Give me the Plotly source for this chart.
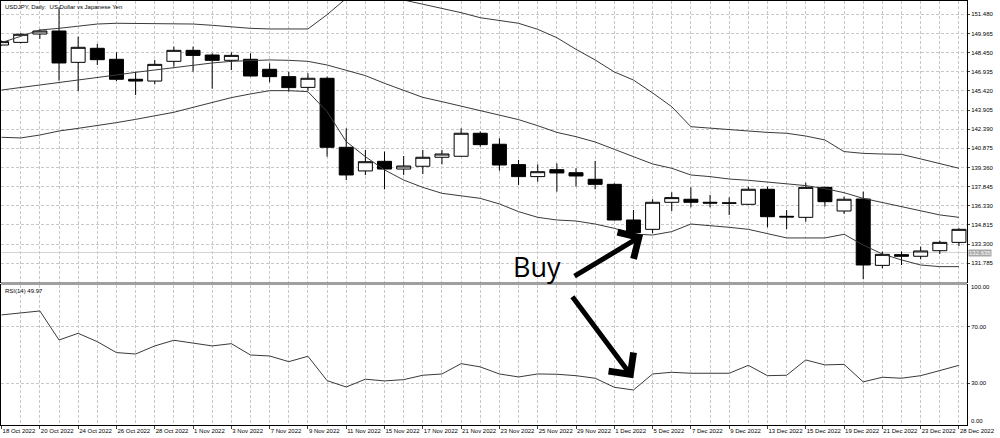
import plotly.graph_objects as go
from plotly.subplots import make_subplots

# trading days shown on the chart (USDJPY daily)
dates = [
    "18 Oct 2022", "19 Oct 2022", "20 Oct 2022", "21 Oct 2022", "24 Oct 2022", "25 Oct 2022",
    "26 Oct 2022", "27 Oct 2022", "28 Oct 2022", "31 Oct 2022", "1 Nov 2022", "2 Nov 2022",
    "3 Nov 2022", "4 Nov 2022", "7 Nov 2022", "8 Nov 2022", "9 Nov 2022", "10 Nov 2022",
    "11 Nov 2022", "14 Nov 2022", "15 Nov 2022", "16 Nov 2022", "17 Nov 2022", "18 Nov 2022",
    "21 Nov 2022", "22 Nov 2022", "23 Nov 2022", "24 Nov 2022", "25 Nov 2022", "28 Nov 2022",
    "29 Nov 2022", "30 Nov 2022", "1 Dec 2022", "2 Dec 2022", "5 Dec 2022", "6 Dec 2022",
    "7 Dec 2022", "8 Dec 2022", "9 Dec 2022", "12 Dec 2022", "13 Dec 2022", "14 Dec 2022",
    "15 Dec 2022", "16 Dec 2022", "19 Dec 2022", "20 Dec 2022", "21 Dec 2022", "22 Dec 2022",
    "23 Dec 2022", "27 Dec 2022", "28 Dec 2022",
]

opens = [149.05, 149.26, 149.92, 150.16, 147.68, 148.79, 147.92, 146.34, 146.20, 147.76,
         148.63, 148.26, 147.84, 147.92, 147.13, 146.55, 145.70, 146.42, 140.96, 139.09,
         139.85, 139.24, 139.46, 140.17, 140.25, 142.07, 141.20, 139.59, 138.64, 139.19,
         138.95, 138.43, 138.03, 135.21, 134.47, 136.61, 136.85, 136.61, 136.53, 136.45,
         137.64, 135.50, 135.42, 137.79, 135.92, 136.87, 131.62, 132.47, 132.34, 132.78,
         133.44]
highs = [149.40, 149.98, 150.29, 152.03, 149.71, 149.13, 148.47, 146.94, 147.87, 148.92,
         148.92, 148.39, 148.47, 148.39, 147.60, 146.94, 146.81, 146.55, 142.46, 140.75,
         140.62, 140.27, 140.75, 140.75, 142.46, 142.20, 141.67, 139.96, 139.61, 139.69,
         139.30, 139.88, 138.11, 136.00, 136.85, 137.40, 137.79, 137.19, 137.00, 137.85,
         137.85, 136.00, 138.16, 137.85, 137.06, 137.45, 132.71, 132.71, 133.10, 133.58,
         134.55]
lows = [149.00, 149.18, 149.53, 146.23, 145.41, 147.47, 146.20, 145.10, 145.94, 147.34,
        146.94, 145.60, 147.07, 146.55, 146.10, 145.36, 145.44, 140.22, 138.37, 138.77,
        137.64, 138.77, 138.85, 139.61, 140.22, 141.01, 139.11, 137.98, 138.24, 137.45,
        137.85, 137.64, 135.16, 134.16, 134.16, 135.92, 136.21, 136.21, 135.61, 136.40,
        134.63, 134.47, 135.08, 136.27, 135.69, 130.52, 131.39, 131.65, 132.10, 132.52,
        133.15]
closes = [149.32, 149.90, 150.16, 147.63, 148.87, 147.89, 146.34, 146.20, 147.52, 148.63,
          148.23, 147.84, 148.23, 146.60, 146.55, 145.68, 146.42, 140.96, 138.77, 139.82,
          139.24, 139.48, 140.17, 140.43, 142.07, 141.17, 139.56, 138.64, 139.03, 138.93,
          138.69, 138.03, 135.21, 134.21, 136.61, 136.98, 136.61, 136.55, 136.56, 137.64,
          135.47, 135.45, 137.79, 136.66, 136.85, 131.65, 132.49, 132.34, 132.76, 133.44,
          134.47]

bb_upper = [149.24, 149.76, 150.24, 150.37, 150.55, 150.71, 150.77, 150.77, 150.77, 150.77,
            150.71, 150.61, 150.50, 150.37, 150.32, 150.32, 150.32, 151.45, 152.74, 153.01,
            152.93, 152.61, 152.27, 151.98, 151.61, 151.21, 150.98, 150.77, 150.29, 149.63,
            148.71, 147.87, 146.92, 146.28, 145.26, 144.17, 142.59, 142.46, 142.33, 142.25,
            142.14, 142.07, 141.85, 141.54, 140.62, 140.48, 140.43, 140.40, 140.04, 139.69,
            139.30]
bb_middle = [145.49, 145.68, 145.89, 146.07, 146.28, 146.49, 146.68, 146.89, 147.07, 147.29,
             147.47, 147.63, 147.76, 147.84, 147.87, 147.84, 147.76, 147.47, 147.05, 146.63,
             146.02, 145.44, 144.91, 144.57, 144.20, 143.86, 143.49, 143.15, 142.67, 142.14,
             141.80, 141.38, 140.80, 140.22, 139.64, 139.30, 138.77, 138.64, 138.45, 138.35,
             138.22, 138.08, 137.93, 137.69, 137.37, 136.92, 136.58, 136.27, 135.92, 135.61,
             135.42]
bb_lower = [141.75, 141.70, 141.93, 142.25, 142.46, 142.67, 142.91, 143.17, 143.44, 143.73,
            144.12, 144.52, 144.89, 145.18, 145.44, 145.44, 145.36, 143.78, 141.41, 140.22,
            139.17, 138.37, 137.79, 137.32, 137.11, 136.92, 136.48, 135.87, 135.42, 135.21,
            135.13, 134.89, 134.55, 134.10, 134.02, 134.29, 134.89, 134.79, 134.63, 134.47,
            134.16, 133.79, 133.79, 133.79, 134.08, 133.23, 132.52, 132.05, 131.65, 131.52,
            131.52]

rsi = [78.3, 79.9, 81.1, 60.6, 65.3, 59.4, 51.7, 50.7, 56.4, 60.4,
       58.3, 56.4, 58.0, 50.0, 49.3, 45.3, 49.1, 31.9, 27.4, 32.9,
       31.7, 32.6, 35.7, 36.6, 43.9, 41.6, 36.6, 34.5, 36.6, 36.4,
       35.4, 33.6, 27.2, 25.3, 36.6, 37.8, 37.1, 37.1, 37.1, 42.7,
       35.4, 35.7, 46.5, 43.0, 43.4, 31.0, 34.3, 33.6, 35.4, 39.0,
       42.7]

price_ticks = [131.785, 133.300, 134.815, 136.330, 137.845, 139.360, 140.875,
               142.390, 143.905, 145.420, 146.935, 148.450, 149.965, 151.480]
rsi_levels = [30, 70]
bid_price = 132.635

FONT = "Liberation Sans"
GRID = dict(showgrid=True, gridcolor="#c8c8c8", griddash="3px,2px", gridwidth=1)
LINE = "#3a3a3a"

idx = list(range(len(dates)))

fig = make_subplots(rows=2, cols=1, shared_xaxes=True)

fig.add_trace(go.Candlestick(
    x=idx, open=opens, high=highs, low=lows, close=closes,
    increasing=dict(line=dict(color="black", width=1), fillcolor="white"),
    decreasing=dict(line=dict(color="black", width=1), fillcolor="black"),
    whiskerwidth=0, showlegend=False, hoverinfo="skip",
), row=1, col=1)

for band in (bb_upper, bb_middle, bb_lower):
    fig.add_trace(go.Scatter(x=idx, y=band, mode="lines", line=dict(color=LINE, width=1),
                             showlegend=False, hoverinfo="skip"), row=1, col=1)

fig.add_trace(go.Scatter(x=idx, y=rsi, mode="lines", line=dict(color=LINE, width=1),
                         showlegend=False, hoverinfo="skip"), row=2, col=1)

xrange = [-0.03, 50.42]
common_x = dict(range=xrange, showline=True, linecolor="black", linewidth=1, mirror=True,
                zeroline=False, tickvals=idx[::2], ticktext=dates[::2], tickangle=0,
                automargin=False,
                minor=dict(dtick=1, tick0=0, showgrid=True, gridcolor="#c8c8c8",
                           griddash="3px,2px"),
                **GRID)
common_y = dict(side="right", ticks="outside", ticklen=2, tickfont=dict(size=6),
                showline=True, linecolor="black", linewidth=1, mirror=True, zeroline=False,
                automargin=False, **GRID)

fig.update_layout(
    width=1000, height=438,
    margin=dict(l=1, r=33, t=1, b=13),
    paper_bgcolor="white", plot_bgcolor="white",
    font=dict(family=FONT, size=6, color="black"),
    boxgap=0.27, boxgroupgap=0,
    hovermode=False,
    xaxis=dict(domain=[0, 1], showticklabels=False, ticks="", rangeslider=dict(visible=False),
               **common_x),
    xaxis2=dict(domain=[0, 1], showticklabels=True, ticks="outside", ticklen=3,
                ticklabelposition="outside right", tickfont=dict(size=6), **common_x),
    yaxis=dict(domain=[0.3373, 1], range=[130.306, 152.532],
               tickvals=price_ticks, ticktext=[f"{v:.3f}" for v in price_ticks], **common_y),
    yaxis2=dict(domain=[0, 0.3302], range=[0.57, 99.43],
                tickvals=rsi_levels, ticktext=[f"{v:.2f}" for v in rsi_levels], **common_y),
)

# separator between price window and RSI window
fig.add_shape(type="rect", xref="paper", yref="paper", x0=0, x1=1, y0=0.3302, y1=0.3373,
              fillcolor="#a0a0a0", line=dict(width=0), layer="above")
# bid line
fig.add_shape(type="line", xref="x domain", yref="y", x0=0, x1=1, y0=bid_price, y1=bid_price,
              line=dict(color="#d4d4d4", width=1), layer="below")

fig.add_annotation(xref="paper", yref="y", x=1, y=bid_price, text=f"{bid_price:.3f}",
                   xanchor="left", showarrow=False, xshift=1, bgcolor="#a8a8a8",
                   font=dict(size=6, color="white"), borderpad=0)
fig.add_annotation(xref="paper", yref="y2", x=1, y=98.0, text="100.00", xanchor="left",
                   showarrow=False, xshift=2, font=dict(size=6))
fig.add_annotation(xref="paper", yref="y2", x=1, y=3.4, text="0.00", xanchor="left",
                   showarrow=False, xshift=2, font=dict(size=6))

fig.add_annotation(xref="paper", yref="paper", x=0.002, y=0.997, xanchor="left", yanchor="top",
                   text="USDJPY, Daily:  US Dollar vs Japanese Yen", showarrow=False,
                   font=dict(size=6))
fig.add_annotation(xref="paper", yref="paper", x=0.002, y=0.328, xanchor="left", yanchor="top",
                   text="RSI(14) 49.97", showarrow=False, font=dict(size=6))

# trade markup
fig.add_annotation(xref="x", yref="y", x=27.94, y=131.53, text="Buy", showarrow=False,
                   font=dict(family="Open Sans", size=27, color="black"))
fig.add_annotation(xref="x", yref="y", x=33.5, y=134.02, ax=-70, ay=42, text="",
                   showarrow=True, arrowhead=4, arrowsize=1.2, arrowwidth=5, arrowcolor="black")
fig.add_annotation(xref="x2", yref="y2", x=32.99, y=33.6, ax=-62, ay=-83, text="",
                   showarrow=True, arrowhead=4, arrowsize=1.2, arrowwidth=5, arrowcolor="black")

# the page's default 8px body margin would shift the whole figure
fig.write_html("out.html", config={"displayModeBar": False},
               post_script="document.body.style.margin = '0px';")
